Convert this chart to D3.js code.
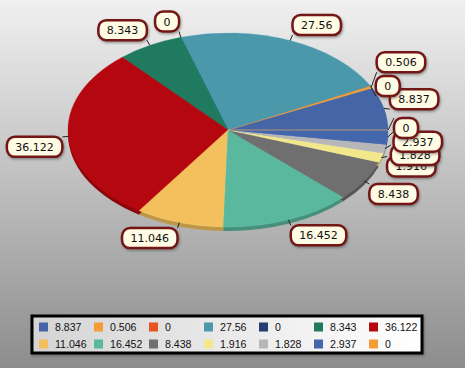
<!DOCTYPE html>
<html><head><meta charset="utf-8">
<script src="https://cdn.jsdelivr.net/npm/d3@7"></script>
<style>html,body{margin:0;padding:0;overflow:hidden;background:#fff}</style>
</head><body>
<svg id="c" width="465" height="368"></svg>
<script>
// ---- data ----
const values = [8.837, 0.506, 0, 27.56, 0, 8.343, 36.122, 11.046, 16.452, 8.438, 1.916, 1.828, 2.937, 0];
const labelTexts = ["8.837","0.506","0","27.56","0","8.343","36.122","11.046","16.452","8.438","1.916","1.828","2.937","0"];
const colors = ["#4565a6","#f39c38","#e8531e","#4b98ab","#243d73","#1f7a60","#b5070f","#f3c05d","#5ab89e","#6f6f6f","#f3e78c","#b7b7b7","#4466aa","#f39c38"];
// layout nudges for crowded labels (vertical, px)
const labelShiftY = [2, -12, 13, 0, 0, 0, 0, 0, 0, 0, -3, -5, -6, -12];

(function(){
const svg = d3.select("#c");
const W = 465, H = 368;
const defs = svg.append("defs");
const bg = defs.append("linearGradient").attr("id","bg").attr("x1",0).attr("y1",0).attr("x2",0).attr("y2",1);
bg.append("stop").attr("offset","0%").attr("stop-color","#f0f0f0");
bg.append("stop").attr("offset","100%").attr("stop-color","#8d8d8d");
const lg = defs.append("linearGradient").attr("id","lg").attr("x1",0).attr("y1",0).attr("x2",1).attr("y2",0);
lg.append("stop").attr("offset","0%").attr("stop-color","#d4d4d4");
lg.append("stop").attr("offset","100%").attr("stop-color","#ffffff");
const sh = defs.append("filter").attr("id","sh").attr("x","-20%").attr("y","-30%").attr("width","150%").attr("height","170%");
sh.append("feDropShadow").attr("dx",1).attr("dy",1.5).attr("stdDeviation",1).attr("flood-color","#333").attr("flood-opacity",0.45);

svg.append("rect").attr("width",W).attr("height",H).attr("fill","url(#bg)");

const cx = 228, cy = 130, rx = 160, ry = 97, depth = 4;
const pie = d3.pie().sort(null).value(d => d)
  .startAngle(Math.PI/2).endAngle(Math.PI/2 - 2*Math.PI);
const arcs = pie(values);
const arc = d3.arc().innerRadius(0).outerRadius(rx);

// side (depth) band
const sideG = svg.append("g").attr("transform",`translate(${cx},${cy+depth}) scale(1,${ry/rx})`);
sideG.selectAll("path").data(arcs).join("path")
  .attr("d", arc).attr("fill", (d,i) => d3.color(colors[i]).darker(0.7));
// top surface
const topG = svg.append("g").attr("transform",`translate(${cx},${cy}) scale(1,${ry/rx})`);
topG.selectAll("path").data(arcs).join("path")
  .attr("d", arc).attr("fill", (d,i) => colors[i])
  .attr("stroke", (d,i) => d3.color(colors[i]).brighter(0.4)).attr("stroke-width",0.4);

// labels
const off = 6;
const lab = svg.append("g").attr("font-family","'DejaVu Sans', Verdana, sans-serif").attr("font-size","11px");
arcs.forEach((d,i) => {
  const a = (d.startAngle + d.endAngle)/2;
  const sx = Math.sin(a), cyv = Math.cos(a);
  const ex = cx + rx*sx, ey = cy - ry*cyv;
  const lx = cx + (rx+off)*sx, ly = cy - (ry+off)*cyv + labelShiftY[i];
  const g = lab.append("g");
  g.append("line").attr("x1",ex).attr("y1",ey).attr("x2",lx).attr("y2",ly)
    .attr("stroke","#222").attr("stroke-width",1);
  const t = g.append("text").text(labelTexts[i]).attr("fill","#111");
  const tw = t.node().getComputedTextLength();
  const bw = tw + 17, bh = 20;
  const bx = sx >= 0 ? lx : lx - bw;
  const by = cyv > 1e-6 ? ly - bh : ly;
  g.insert("rect","text").attr("x",bx).attr("y",by).attr("width",bw).attr("height",bh)
    .attr("rx",8).attr("ry",8).attr("fill","#fffbe4").attr("stroke","#731414").attr("stroke-width",2.5)
    .attr("filter","url(#sh)");
  t.attr("x",bx+bw/2).attr("y",by+bh/2+4).attr("text-anchor","middle");
});

// legend
const lgx = 32, lgy = 316, lgw = 390, lgh = 37;
svg.append("rect").attr("x",lgx).attr("y",lgy).attr("width",lgw).attr("height",lgh)
  .attr("fill","url(#lg)").attr("stroke","#000").attr("stroke-width",3).attr("filter","url(#sh)");
const leg = svg.append("g").attr("font-family","'Liberation Sans', Arial, sans-serif").attr("font-size","10.6px").attr("fill","#111");
values.forEach((v,i) => {
  const col = i % 7, row = Math.floor(i / 7);
  const x = 39 + col*55, y = 322.5 + row*17;
  leg.append("rect").attr("x",x).attr("y",y).attr("width",9).attr("height",9).attr("fill",colors[i]);
  leg.append("text").attr("x",x+16).attr("y",y+8.5).text(labelTexts[i]);
});
})();
</script>
</body></html>
